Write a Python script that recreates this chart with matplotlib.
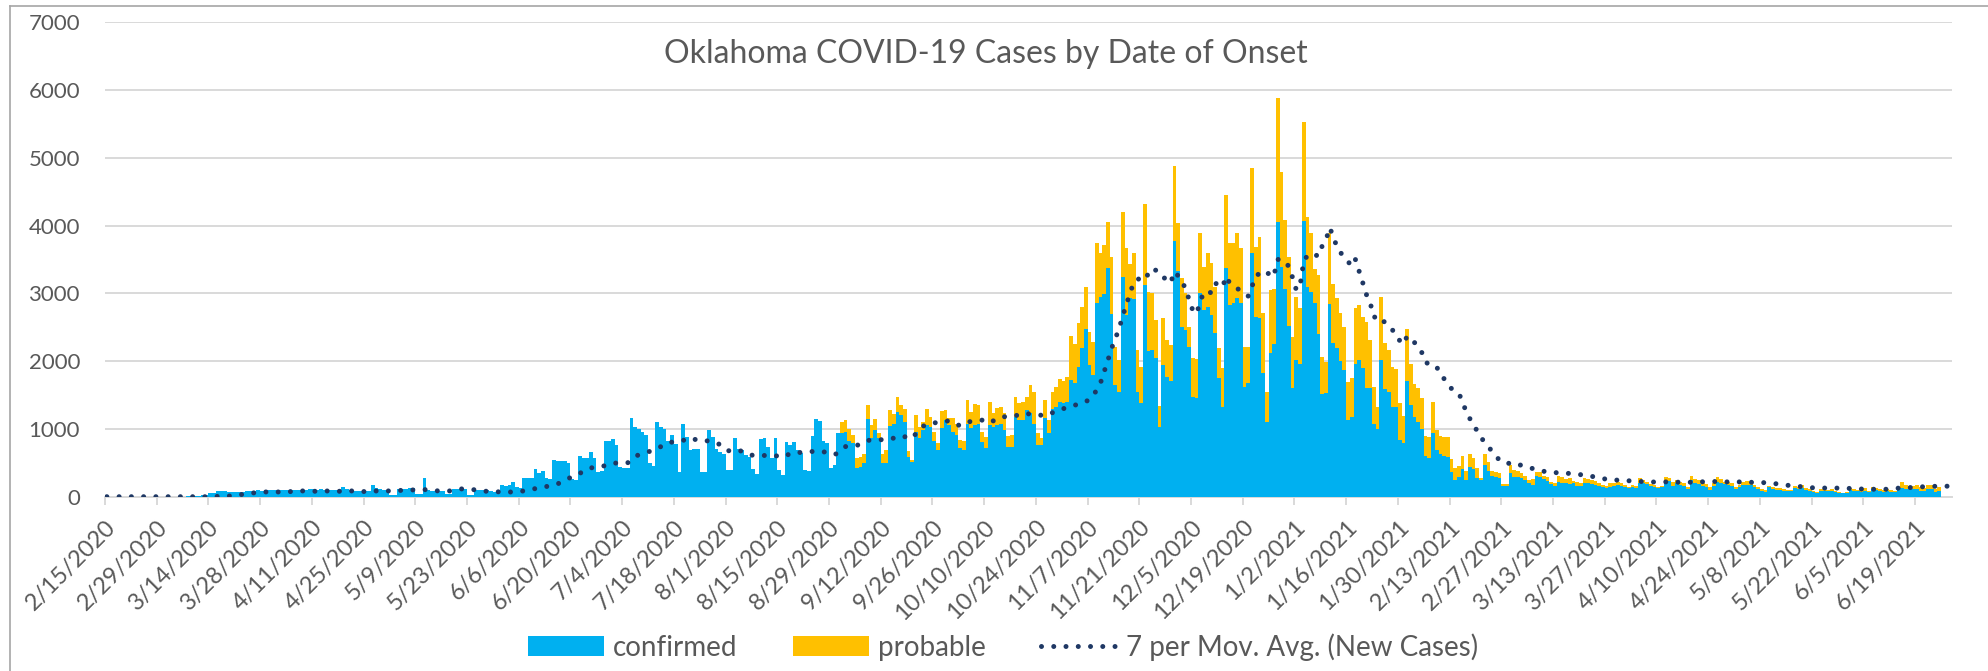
import numpy as np
import matplotlib
matplotlib.use("Agg")
import matplotlib.pyplot as plt
from matplotlib.patches import Patch
from matplotlib.lines import Line2D

plt.rcParams['font.family'] = ['Lato', 'DejaVu Sans']

# ---- data (daily, day 0 = 2/15/2020) ----
confirmed = [
    0, 0, 0, 0, 0, 0, 0, 0, 0, 0,
    0, 0, 0, 0, 0, 0, 0, 0, 0, 0,
    1, 2, 3, 5, 10, 15, 25, 30, 60, 60,
    85, 85, 90, 70, 65, 65, 65, 75, 85, 90,
    90, 95, 90, 95, 95, 100, 95, 100, 95, 100,
    100, 95, 100, 100, 105, 110, 108, 105, 108, 100,
    95, 100, 105, 100, 140, 110, 95, 85, 85, 80,
    85, 80, 170, 125, 110, 100, 100, 25, 30, 115,
    115, 120, 135, 135, 35, 40, 280, 95, 90, 90,
    85, 90, 40, 40, 110, 115, 120, 115, 25, 30,
    100, 100, 105, 95, 80, 75, 80, 180, 160, 170,
    220, 140, 125, 280, 275, 280, 410, 345, 385, 270,
    260, 540, 530, 520, 520, 500, 255, 245, 600, 565,
    575, 655, 565, 370, 380, 825, 820, 845, 760, 440,
    430, 430, 1155, 1025, 1000, 950, 905, 500, 455, 1097,
    1035, 995, 820, 910, 780, 360, 1080, 885, 690, 700,
    700, 360, 360, 985, 885, 700, 665, 630, 395, 395,
    860, 700, 690, 615, 580, 410, 335, 845, 860, 740,
    565, 860, 395, 320, 810, 760, 810, 690, 650, 390,
    380, 890, 1150, 1115, 820, 785, 430, 465, 945, 945,
    960, 825, 785, 420, 445, 490, 1145, 870, 985, 860,
    490, 490, 1050, 1080, 1255, 1205, 1105, 590, 505, 960,
    860, 985, 1060, 1035, 825, 690, 1020, 1130, 1060, 960,
    910, 715, 690, 1080, 1020, 1060, 1080, 810, 715, 1060,
    1035, 1060, 1080, 985, 740, 740, 1180, 1130, 1130, 1280,
    1230, 1080, 770, 760, 1155, 935, 1300, 1330, 1400, 1380,
    1390, 1720, 1680, 1910, 2190, 2470, 1945, 1795, 2855, 2940,
    2990, 3380, 2695, 1650, 1550, 3245, 2680, 2925, 2910, 1550,
    1385, 3125, 2155, 2165, 2040, 1035, 1945, 1760, 1710, 3775,
    3335, 2510, 2460, 2215, 1465, 1460, 3000, 2755, 2805, 2680,
    2410, 1745, 1330, 3370, 2830, 2855, 2925, 2865, 1625, 1680,
    3590, 2655, 2630, 1830, 1105, 2115, 2250, 4050, 3395, 3065,
    2525, 1600, 2015, 1955, 4075, 3100, 3015, 2855, 2400, 1510,
    1525, 2845, 2270, 2190, 2000, 1870, 1130, 1180, 1960, 2015,
    1895, 1600, 1600, 1080, 995, 2015, 1585, 1550, 1330, 1320,
    835, 785, 1710, 1355, 1170, 1105, 995, 600, 565, 935,
    690, 625, 600, 590, 370, 245, 285, 405, 245, 445,
    410, 270, 245, 465, 380, 305, 285, 280, 155, 155,
    355, 295, 295, 270, 245, 195, 170, 305, 295, 255,
    235, 185, 155, 220, 205, 195, 185, 195, 155, 155,
    195, 195, 185, 170, 155, 140, 125, 150, 155, 170,
    155, 140, 125, 140, 125, 205, 195, 185, 155, 140,
    125, 140, 220, 230, 155, 195, 170, 155, 110, 245,
    195, 185, 165, 150, 100, 155, 220, 195, 185, 170,
    155, 110, 140, 170, 180, 170, 140, 110, 90, 75,
    140, 110, 100, 100, 90, 85, 85, 125, 110, 125,
    100, 85, 70, 60, 90, 90, 85, 90, 75, 60,
    50, 60, 100, 90, 85, 75, 90, 70, 110, 100,
    90, 75, 85, 75, 70, 100, 125, 110, 110, 110,
    110, 90, 85, 110, 110, 75, 90,
]

probable = [
    0, 0, 0, 0, 0, 0, 0, 0, 0, 0, 0, 0, 0, 0, 0, 0, 0, 0, 0, 0,
    0, 0, 0, 0, 0, 0, 0, 0, 0, 0, 0, 0, 0, 0, 0, 0, 0, 0, 0, 0,
    0, 0, 0, 0, 0, 0, 0, 0, 0, 0, 0, 0, 0, 0, 0, 0, 0, 0, 0, 0,
    0, 0, 0, 0, 0, 0, 0, 0, 0, 0, 0, 0, 0, 0, 0, 0, 0, 0, 0, 0,
    0, 0, 0, 0, 0, 0, 0, 0, 0, 0, 0, 0, 0, 0, 0, 0, 0, 0, 0, 0,
    0, 0, 0, 0, 0, 0, 0, 0, 0, 0, 0, 0, 0, 0, 0, 0, 0, 0, 0, 0,
    0, 0, 0, 0, 0, 0, 0, 0, 0, 0, 0, 0, 0, 0, 0, 0, 0, 0, 0, 0,
    0, 0, 0, 0, 0, 0, 0, 0, 0, 0, 0, 0, 0, 0, 0, 0, 0, 0, 0, 0,
    0, 0, 0, 0, 0, 0, 0, 0, 0, 0, 0, 0, 0, 0, 0, 0, 0, 0, 0, 0,
    0, 0, 0, 0, 0, 0, 0, 0, 0, 0,
    0, 0, 0, 0, 0, 0, 0, 0, 0, 160,
    170, 170, 125, 155, 135, 140, 210, 190, 160, 75,
    140, 200, 230, 140, 220, 150, 190, 90, 35, 245,
    175, 120, 235, 145, 135, 105, 245, 150, 95, 195,
    170, 120, 130, 345, 235, 305, 275, 150, 170, 340,
    195, 245, 250, 245, 155, 170, 295, 250, 270, 195,
    420, 470, 165, 100, 270, 195, 250, 290, 330, 320,
    380, 650, 570, 650, 610, 630, 490, 495, 895, 660,
    730, 680, 845, 555, 465, 960, 985, 510, 680, 615,
    535, 1195, 870, 835, 565, 305, 685, 550, 530, 1105,
    700, 710, 540, 295, 575, 565, 885, 640, 785, 765,
    690, 445, 565, 1080, 920, 885, 960, 800, 580, 535,
    1255, 1035, 1205, 875, 445, 935, 815, 1840, 1390, 1025,
    1015, 760, 935, 825, 1460, 1030, 880, 505, 870, 555,
    465, 1040, 870, 735, 705, 640, 565, 565, 820, 815,
    760, 980, 710, 545, 335, 925, 680, 615, 590, 560,
    550, 405, 760, 605, 495, 495, 455, 295, 320, 465,
    295, 270, 285, 285, 180, 175, 170, 195, 140, 185,
    155, 150, 25, 165, 135, 80, 75, 75, 30, 30,
    110, 100, 85, 85, 65, 50, 85, 65, 75, 50,
    50, 35, 40, 85, 90, 60, 85, 40, 65, 50,
    75, 60, 60, 65, 50, 30, 30, 45, 50, 50,
    40, 40, 25, 30, 30, 65, 50, 35, 30, 30,
    25, 15, 65, 40, 65, 50, 50, 40, 30, 60,
    60, 60, 40, 35, 40, 50, 65, 60, 35, 50,
    40, 30, 30, 50, 55, 35, 30, 30, 20, 25,
    15, 30, 25, 25, 20, 15, 15, 30, 30, 45,
    25, 25, 20, 15, 20, 20, 15, 20, 15, 15,
    10, 15, 25, 20, 15, 25, 35, 20, 30, 25,
    20, 25, 25, 25, 20, 40, 95, 60, 45, 45,
    60, 50, 40, 60, 60, 35, 60,
]

moving_avg = [
    0, 0, 0, 0, 0, 0, 0, 0, 0, 0,
    0, 0, 0, 0, 0, 0, 0, 0, 0, 0,
    0, 0, 0, 0, 0, 0, 0, 0, 2, 4,
    5, 6, 8, 10, 15, 22, 28, 35, 42, 50,
    58, 62, 66, 70, 70, 70, 70, 70, 72, 74,
    75, 78, 82, 85, 84, 82, 80, 80, 82, 84,
    85, 84, 82, 80, 82, 84, 85, 85, 80, 77,
    75, 78, 82, 85, 85, 85, 85, 85, 88, 92,
    95, 97, 98, 100, 102, 104, 105, 100, 95, 88,
    85, 85, 85, 85, 95, 105, 115, 112, 108, 105,
    100, 92, 85, 78, 76, 75, 72, 68, 66, 68,
    72, 78, 82, 85, 95, 108, 120, 130, 140, 150,
    162, 175, 188, 215, 240, 270, 295, 320, 345, 370,
    400, 425, 432, 438, 445, 462, 480, 495, 497, 498,
    499, 500, 545, 590, 620, 635, 650, 670, 690, 710,
    740, 770, 800, 805, 808, 810, 830, 855, 870, 850,
    830, 820, 822, 825, 810, 790, 770, 735, 680, 675,
    683, 690, 665, 640, 615, 612, 608, 605, 608, 612,
    615, 605, 595, 585, 610, 635, 655, 653, 651, 650,
    660, 668, 675, 668, 660, 655, 640, 620, 650, 700,
    740, 745, 750, 755, 780, 810, 830, 835, 838, 840,
    842, 844, 845, 865, 885, 900, 885, 870, 860, 930,
    995, 1040, 1075, 1085, 1090, 1095, 1105, 1112, 1120, 1095,
    1070, 1045, 1070, 1095, 1115, 1120, 1125, 1130, 1115, 1090,
    1120, 1150, 1175, 1180, 1180, 1180, 1195, 1212, 1228, 1225,
    1220, 1215, 1208, 1200, 1195, 1215, 1240, 1255, 1275, 1300,
    1315, 1335, 1350, 1365, 1380, 1400, 1440, 1490, 1580, 1680,
    1845, 2015, 2190, 2330, 2480, 2660, 2840, 3000, 3170, 3210,
    3215, 3195, 3300, 3370, 3340, 3320, 3250, 3170, 3160, 3320,
    3260, 3160, 3085, 2900, 2745, 2700, 2880, 3025, 3020, 3010,
    3150, 3130, 3090, 3250, 3150, 3110, 3075, 3030, 2990, 2960,
    3100, 3260, 3290, 3315, 3330, 3240, 3280, 3500, 3505, 3450,
    3400, 3230, 3050, 3110, 3470, 3560, 3590, 3570, 3550, 3700,
    3780, 3970, 3845, 3680, 3600, 3535, 3470, 3400, 3500, 3330,
    3155, 2980, 2860, 2650, 2650, 2655, 2560, 2510, 2460, 2410,
    2300, 2250, 2370, 2320, 2275, 2200, 2125, 1980, 1960, 1960,
    1910, 1830, 1740, 1670, 1595, 1560, 1525, 1400, 1250, 1150,
    1070, 960, 875, 800, 735, 670, 600, 540, 500, 490,
    495, 505, 480, 460, 445, 430, 415, 400, 390, 375,
    360, 355, 355, 355, 355, 348, 342, 335, 330, 325,
    320, 310, 300, 290, 280, 268, 255, 245, 245, 245,
    245, 240, 235, 230, 228, 225, 222, 220, 218, 216,
    215, 217, 218, 220, 220, 215, 212, 210, 212, 214,
    215, 218, 220, 220, 222, 224, 225, 225, 220, 217,
    215, 217, 219, 220, 216, 213, 210, 210, 208, 207,
    205, 198, 190, 182, 175, 168, 162, 158, 152, 146,
    140, 136, 131, 126, 127, 129, 130, 129, 127, 126,
    125, 123, 122, 120, 117, 113, 110, 110, 110, 110,
    110, 110, 110, 110, 118, 127, 135, 135, 135, 135,
    140, 145, 148, 150, 152, 154, 155, 155, 155, 155,
]

tick_labels = ['2/15/2020', '2/29/2020', '3/14/2020', '3/28/2020', '4/11/2020',
               '4/25/2020', '5/9/2020', '5/23/2020', '6/6/2020', '6/20/2020',
               '7/4/2020', '7/18/2020', '8/1/2020', '8/15/2020', '8/29/2020',
               '9/12/2020', '9/26/2020', '10/10/2020', '10/24/2020', '11/7/2020',
               '11/21/2020', '12/5/2020', '12/19/2020', '1/2/2021', '1/16/2021',
               '1/30/2021', '2/13/2021', '2/27/2021', '3/13/2021', '3/27/2021',
               '4/10/2021', '4/24/2021', '5/8/2021', '5/22/2021', '6/5/2021',
               '6/19/2021']
tick_step_days = 14
n_slots = 500

title = 'Oklahoma COVID-19 Cases by Date of Onset'
label_conf = 'confirmed'
label_prob = 'probable'
label_ma = '7 per Mov. Avg. (New Cases)'

c_conf = '#00B0F0'
c_prob = '#FFC000'
c_ma = '#1F3864'
c_text = '#595959'
c_grid = '#D9D9D9'

# ---- figure ----
W, H = 1988, 671
fig = plt.figure(figsize=(W / 100, H / 100), dpi=100)
ax = fig.add_axes([105 / W, 1 - 496.7 / H, (1952 - 105) / W, (496.7 - 22.3) / H])

conf = np.array(confirmed, dtype=float)
prob = np.array(probable, dtype=float)
ma = np.array(moving_avg, dtype=float)
xb = np.arange(len(conf)) + 0.5
xm = np.arange(len(ma)) + 0.5

ma_style = dict(color=c_ma, linewidth=3.6, linestyle=(0, (0.001, 2.45)),
                dash_capstyle='round')

ax.bar(xb, conf, width=1.0, color=c_conf, linewidth=0, zorder=2)
ax.bar(xb, prob, bottom=conf, width=1.0, color=c_prob, linewidth=0, zorder=2)
ax.plot(xm, ma, zorder=3, **ma_style)

ax.set_xlim(0, n_slots)
ax.set_ylim(0, 7000)
ax.set_yticks(np.arange(0, 7001, 1000))
ax.yaxis.grid(True, color=c_grid, linewidth=1.4, zorder=0)
ax.set_axisbelow(True)
for s in ['left', 'right', 'top']:
    ax.spines[s].set_visible(False)
ax.spines['bottom'].set_color(c_grid)
ax.spines['bottom'].set_linewidth(1.4)
ax.spines['bottom'].set_zorder(1)

ax.tick_params(axis='y', length=0, pad=18, labelsize=16, labelcolor=c_text)
ticks = np.arange(len(tick_labels)) * tick_step_days
ax.set_xticks(ticks)
ax.set_xticklabels(tick_labels, rotation=45, ha='right', rotation_mode='anchor')
ax.tick_params(axis='x', length=6, width=1.4, color=c_grid, pad=8,
               labelsize=17, labelcolor=c_text)

fig.text(986 / W, 1 - 54 / H, title, ha='center', va='center',
         fontsize=23, color=c_text)

handles = [Patch(facecolor=c_conf, edgecolor='none'),
           Patch(facecolor=c_prob, edgecolor='none'),
           Line2D([0], [0], **ma_style)]
leg = fig.legend(handles, [label_conf, label_prob, label_ma], ncol=3,
                 loc='center', bbox_to_anchor=(1003 / W, 1 - 647 / H),
                 frameon=False, fontsize=20, handlelength=2.75, handleheight=0.7,
                 handletextpad=0.3, columnspacing=2.0, labelcolor=c_text,
                 borderpad=0.2)

# chart-area border (partially visible)
fig.add_artist(Line2D([10 / W, 10 / W], [0, 1 - 6 / H], color='#A6A6A6',
                      linewidth=1.2, transform=fig.transFigure))
fig.add_artist(Line2D([10 / W, 1], [1 - 6 / H, 1 - 6 / H], color='#A6A6A6',
                      linewidth=1.2, transform=fig.transFigure))

fig.savefig('out.png', dpi=100)
